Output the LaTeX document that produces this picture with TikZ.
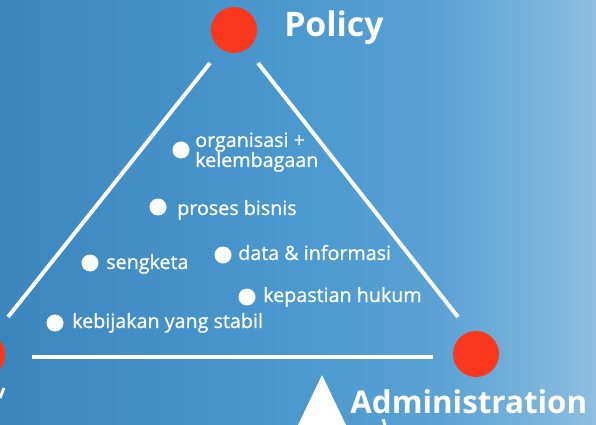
\documentclass[tikz,border=0pt]{standalone}
\usepackage{fontspec}
\setmainfont{Open Sans}
\newfontfamily\itemfont[FakeBold=0.8]{Open Sans}
\usetikzlibrary{calc}

\definecolor{bgleft}{RGB}{60,134,190}
\definecolor{bgmid}{RGB}{74,153,207}
\definecolor{bgright}{RGB}{142,190,224}
\definecolor{dotred}{RGB}{250,56,30}
\pgfdeclarehorizontalshading{bgshade}{100bp}{color(0bp)=(bgleft); color(25bp)=(bgleft); color(50bp)=(bgmid); color(62bp)=(bgmid!75!bgright); color(75bp)=(bgright); color(100bp)=(bgright)}

\tikzset{
    reddot/.style={circle, fill=dotred, minimum size=46*0.025cm, inner sep=0pt},
    bullet/.style={circle, fill=white, minimum size=17*0.025cm, inner sep=0pt},
    item/.style={anchor=base west, text=white, inner sep=0pt, font=\itemfont\fontsize{14pt}{17pt}\selectfont},
    title/.style={anchor=base west, text=white, inner sep=0pt, font=\bfseries\fontsize{24pt}{28pt}\selectfont}
    ,edge/.style={draw=white, line width=2.8pt}
}

\begin{document}
\begin{tikzpicture}[x=0.025cm, y=-0.025cm]
    \useasboundingbox (0,0) rectangle (596,425);
    \clip (0,0) rectangle (596,425);
    \fill[shading=bgshade] (0,0) rectangle (596,425);

    \node[reddot] (policy) at (234,30) {};
    \node[reddot] (regulation) at (-18,355) {};
    \node[reddot] (admin) at (476,354) {};
    \node[title] (policylbl) at (284,37) {Policy};
    \node[title, font=\bfseries\fontsize{22.3pt}{26pt}\selectfont] (adminlbl) at (350,413) {Administration};

    \coordinate (lt) at (210,63);
    \coordinate (lb) at (8,317);
    \coordinate (rt) at (258,63);
    \coordinate (rb) at (458,317);
    \coordinate (bl) at (32,357);
    \coordinate (br) at (433,357);
    \draw[edge] (lt) -- (lb);
    \draw[edge] (rt) -- (rb);
    \draw[edge] (bl) -- (br);

    \node[bullet] (b1) at (181,150) {};
    \node[item] (t1) at (195,147) {organisasi +};
    \node[item] (t1b) at (195,167) {kelembagaan};
    \node[bullet] (b2) at (158,207) {};
    \node[item] (t2) at (177,215) {proses bisnis};
    \node[bullet] (b3) at (90,263) {};
    \node[item] (t3) at (106,269) {sengketa};
    \node[bullet] (b4) at (223,255) {};
    \node[item] (t4) at (238,260) {data \& informasi};
    \node[bullet] (b5) at (247,297) {};
    \node[item] (t5) at (263,302) {kepastian hukum};
    \node[bullet] (b6) at (55,323) {};
    \node[item] (t6) at (72,328) {kebijakan yang stabil};

    \fill[white] (322,375) -- (298,425) -- (346,425) -- cycle;
    \draw[white, line width=2pt] (4,388) -- (0,398);
    \draw[white, line width=2pt] (383,419) -- (385,425);
\end{tikzpicture}
\end{document}
